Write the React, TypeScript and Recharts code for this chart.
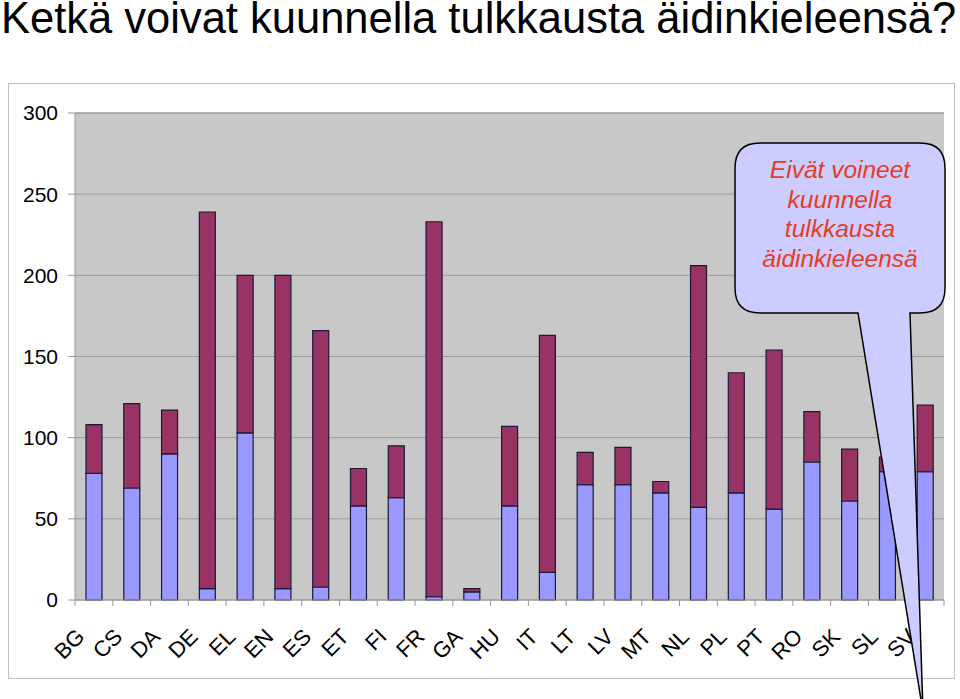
import React from 'react';
import { BarChart, Bar, XAxis, YAxis, CartesianGrid, ReferenceLine } from 'recharts';

const languages = ['BG','CS','DA','DE','EL','EN','ES','ET','FI','FR','GA','HU','IT','LT','LV','MT','NL','PL','PT','RO','SK','SL','SV'];
const couldListen = [78, 69, 90, 7, 103, 7, 8, 58, 63, 2, 5, 58, 17, 71, 71, 66, 57, 66, 56, 85, 61, 79, 79];
const couldNotListen = [30, 52, 27, 232, 97, 193, 158, 23, 32, 231, 2, 49, 146, 20, 23, 7, 149, 74, 98, 31, 32, 9, 41];
const yTicks = [0, 50, 100, 150, 200, 250, 300];
const titleText = 'Ketkä voivat kuunnella tulkkausta äidinkieleensä?';
const calloutLines = ['Eivät voineet', 'kuunnella', 'tulkkausta', 'äidinkieleensä'];

const data = languages.map((l, i) => ({ lang: l, a: couldListen[i], b: couldNotListen[i] }));

const W = 960;
const H = 699;
const M = { top: 113, right: 16, left: 15, bottom: 9 };
const YW = 60;
const plotW = W - M.left - YW - M.right;
const band = plotW / languages.length;
const FONT = '"Liberation Sans", Arial, sans-serif';

const XTick = (props: any) => {
  const { x, y, payload, index } = props;
  const ax = x - 8;
  const ay = y + 38;
  return (
    <g>
      <line x1={x + band / 2} y1={y} x2={x + band / 2} y2={y + 6} stroke="#999" />
      {index === 0 && <line x1={x - band / 2} y1={y} x2={x - band / 2} y2={y + 6} stroke="#999" />}
      <text
        x={ax}
        y={ay}
        transform={`rotate(-45, ${ax}, ${ay})`}
        textAnchor="end"
        fontSize={22}
        fontFamily={FONT}
        fill="#000"
      >
        {payload.value}
      </text>
    </g>
  );
};

export default function App() {
  return (
    <div style={{ position: 'absolute', left: 0, top: 0, width: W, height: H, overflow: 'hidden', background: '#fff' }}>
      <svg width={W} height={H} style={{ position: 'absolute', left: 0, top: 0 }}>
        <rect x={8.5} y={83.5} width={946} height={595} fill="#fff" stroke="#BFBFBF" />
      </svg>
      <div style={{ position: 'absolute', left: 0, top: 0 }}>
        <BarChart width={W} height={H} data={data} margin={M} barSize={16}>
          <CartesianGrid vertical={false} fill="#C8C8C8" stroke="#9A9A9A" />
          <XAxis
            dataKey="lang"
            interval={0}
            height={90}
            tickSize={0}
            tickMargin={0}
            tick={<XTick />}
            axisLine={{ stroke: '#999' }}
            tickLine={false}
          />
          <YAxis
            width={YW}
            domain={[0, 300]}
            ticks={yTicks}
            interval={0}
            tickSize={7}
            tickMargin={10}
            axisLine={{ stroke: '#999' }}
            tickLine={{ stroke: '#999' }}
            tick={{ fill: '#000', fontSize: 21, fontFamily: FONT }}
          />
          <YAxis yAxisId="r" orientation="right" width={0} tick={false} tickLine={false} axisLine={{ stroke: '#B0B0B0' }} />
          <ReferenceLine y={300} stroke="#9A9A9A" />
          <Bar dataKey="a" stackId="s" fill="#9999FF" stroke="#1A1A33" strokeWidth={1.2} isAnimationActive={false} />
          <Bar dataKey="b" stackId="s" fill="#993366" stroke="#1A1A33" strokeWidth={1.2} isAnimationActive={false} />
        </BarChart>
      </div>
      <svg width={W} height={H} style={{ position: 'absolute', left: 0, top: 0, pointerEvents: 'none' }}>
        <text x={1} y={33} fontSize={43.5} fontFamily={FONT} fill="#000">{titleText}</text>
        <path
          d="M 760 143 H 920 Q 945 143 945 168 V 288 Q 945 313 920 313 H 910 L 923 712 L 858 313 H 760 Q 735 313 735 288 V 168 Q 735 143 760 143 Z"
          fill="#CCCCFF"
          stroke="#000"
          strokeWidth={1.5}
        />
        {calloutLines.map((t, i) => (
          <text key={t} x={840} y={178 + i * 29.7} textAnchor="middle" fontSize={24.5} fontStyle="italic" fontFamily={FONT} fill="#E63C1E">
            {t}
          </text>
        ))}
      </svg>
    </div>
  );
}
